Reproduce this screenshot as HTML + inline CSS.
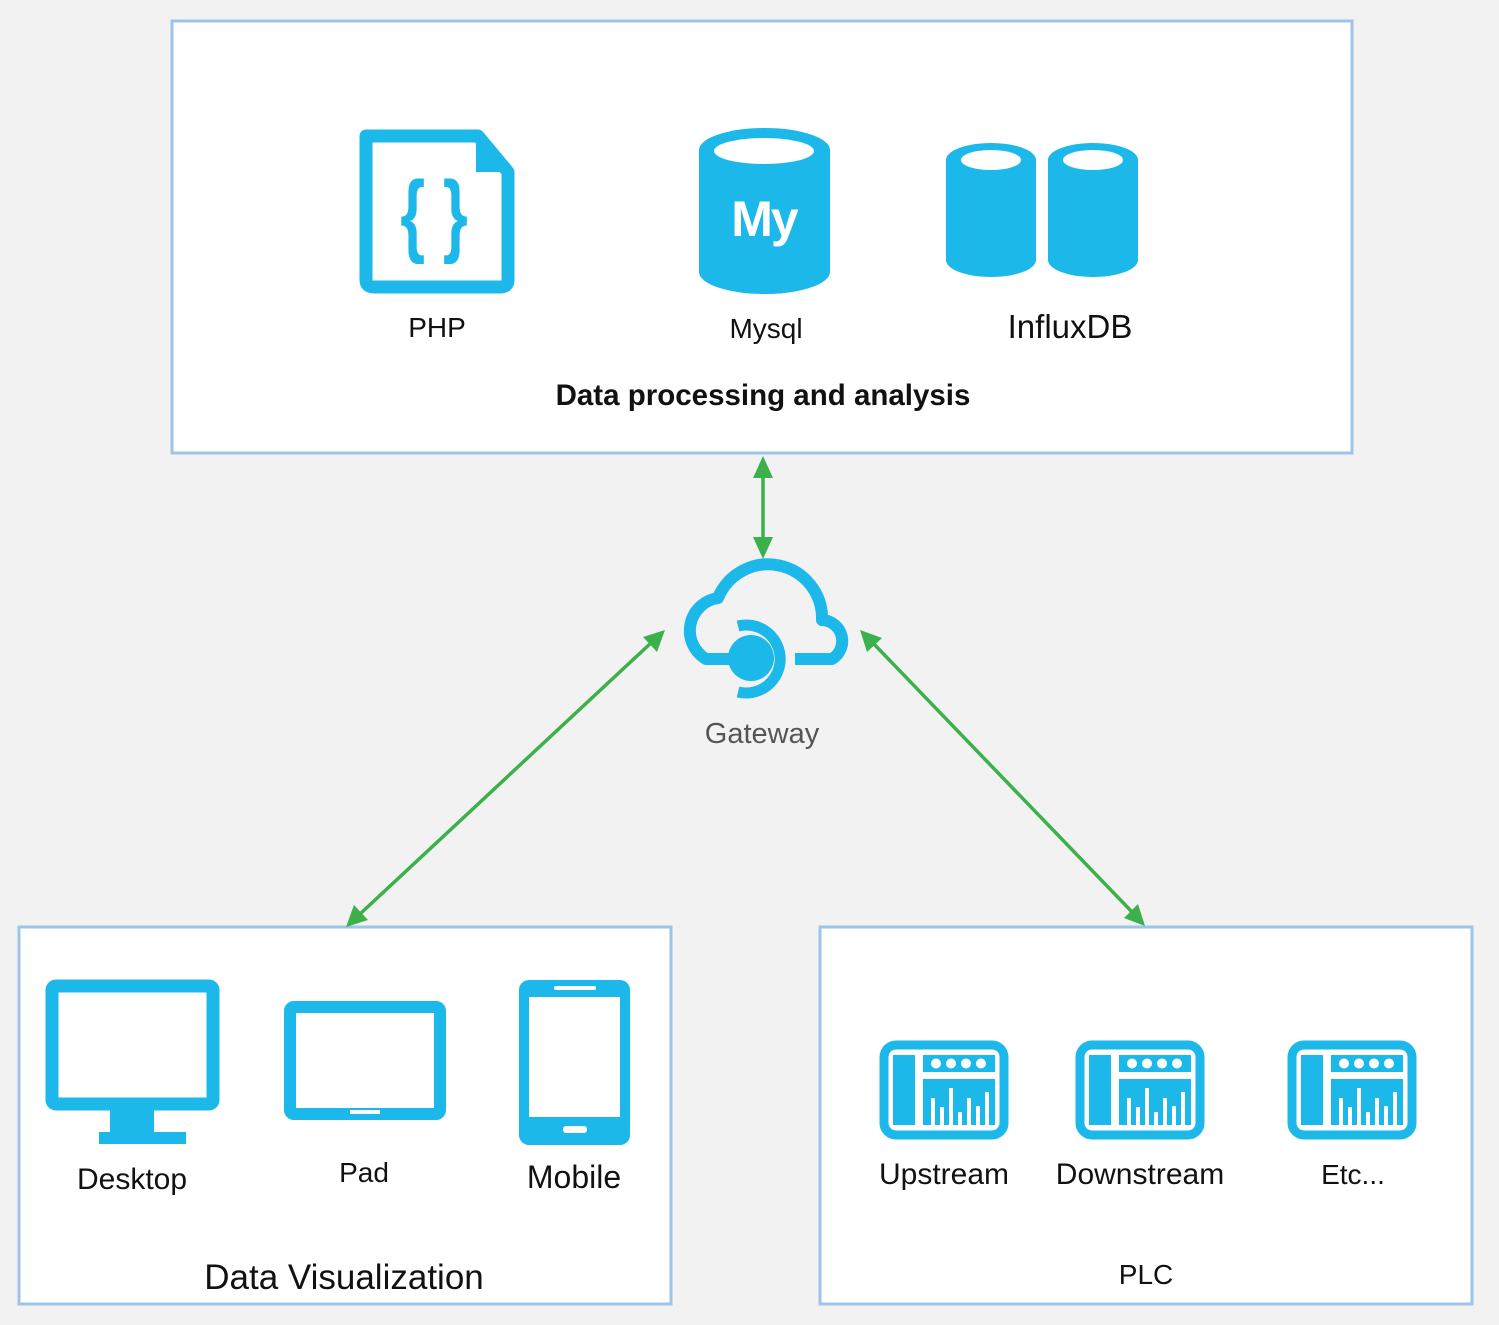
<!DOCTYPE html>
<html><head><meta charset="utf-8"><style>html,body{margin:0;padding:0;background:#f2f2f2}svg{display:block}</style></head>
<body>
<svg width="1499" height="1325" viewBox="0 0 1499 1325" xmlns="http://www.w3.org/2000/svg" font-family="Liberation Sans, sans-serif">
<defs>
<g id="plc">
<rect x="5" y="5" width="120" height="90" rx="12" fill="#fff" stroke="#1db8ea" stroke-width="9"/>
<rect x="14" y="15" width="22" height="70" fill="#1db8ea"/>
<rect x="44" y="15" width="72" height="17" fill="#1db8ea"/>
<circle cx="57" cy="23.5" r="5" fill="#fff"/><circle cx="72" cy="23.5" r="5" fill="#fff"/><circle cx="87" cy="23.5" r="5" fill="#fff"/><circle cx="102" cy="23.5" r="5" fill="#fff"/>
<rect x="44" y="39" width="72" height="46" fill="#1db8ea"/>
<rect x="52" y="58" width="4" height="27" fill="#fff"/><rect x="61" y="67" width="4" height="18" fill="#fff"/><rect x="70" y="48" width="4" height="37" fill="#fff"/><rect x="79" y="72" width="4" height="13" fill="#fff"/><rect x="88" y="58" width="4" height="27" fill="#fff"/><rect x="97" y="66" width="4" height="19" fill="#fff"/><rect x="106" y="52" width="4" height="33" fill="#fff"/>
</g>
</defs>
<rect width="1499" height="1325" fill="#f2f2f2"/>
<rect x="172" y="21" width="1180" height="432" fill="#fff" stroke="#9ec5e8" stroke-width="3"/>
<rect x="19" y="927" width="652" height="377" fill="#fff" stroke="#9ec5e8" stroke-width="3"/>
<rect x="820" y="927" width="652" height="377" fill="#fff" stroke="#9ec5e8" stroke-width="3"/>

<!-- PHP -->
<path d="M366 136 H478 L508 172 V280 Q508 287 500 287 H374 Q366 287 366 280 Z" fill="none" stroke="#1db8ea" stroke-width="13" stroke-linejoin="round"/>
<path d="M476 132 L514 172 H476 Z" fill="#1db8ea"/>
<g transform="translate(434,245) scale(0.8,1.15)"><text x="0" y="0" text-anchor="middle" font-size="80" font-weight="bold" fill="#1db8ea">{ }</text></g>
<!-- Mysql -->
<rect x="699" y="150" width="131" height="122" fill="#1db8ea"/>
<ellipse cx="764.5" cy="150" rx="65.5" ry="22" fill="#1db8ea"/>
<ellipse cx="764.5" cy="272" rx="65.5" ry="22" fill="#1db8ea"/>
<ellipse cx="764" cy="151" rx="50" ry="13" fill="#fff"/>
<text x="764" y="236" text-anchor="middle" font-size="50" font-weight="bold" fill="#fff" letter-spacing="-2">My</text>
<!-- Influx -->
<g fill="#1db8ea">
<rect x="946" y="160" width="90" height="100"/><ellipse cx="991" cy="160" rx="45" ry="17"/><ellipse cx="991" cy="260" rx="45" ry="17"/>
<rect x="1048" y="160" width="90" height="100"/><ellipse cx="1093" cy="160" rx="45" ry="17"/><ellipse cx="1093" cy="260" rx="45" ry="17"/>
</g>
<ellipse cx="991" cy="160" rx="30" ry="10" fill="#fff"/>
<ellipse cx="1093" cy="160" rx="30" ry="10" fill="#fff"/>

<g fill="#111" text-anchor="middle">
<text x="437" y="337" font-size="28">PHP</text>
<text x="766" y="338" font-size="28">Mysql</text>
<text x="1070" y="338" font-size="33">InfluxDB</text>
<text x="763" y="405" font-size="29.5" font-weight="bold">Data processing and analysis</text>
<text x="132" y="1189" font-size="30">Desktop</text>
<text x="364" y="1182" font-size="28">Pad</text>
<text x="574" y="1188" font-size="32">Mobile</text>
<text x="344" y="1289" font-size="35">Data Visualization</text>
<text x="944" y="1184" font-size="30">Upstream</text>
<text x="1140" y="1184" font-size="30">Downstream</text>
<text x="1353" y="1184" font-size="28">Etc...</text>
<text x="1146" y="1284" font-size="28">PLC</text>
</g>
<text x="762" y="743" text-anchor="middle" font-size="29" fill="#555">Gateway</text>

<!-- arrows -->
<g stroke="#3cb04a" stroke-width="3.5">
<line x1="763" y1="470" x2="763" y2="545"/>
<line x1="652" y1="642" x2="360" y2="914"/>
<line x1="872" y1="642" x2="1133" y2="913"/>
</g>
<g fill="#3cb04a">
<polygon points="763,456 753,478 773,478"/>
<polygon points="763,559 753,537 773,537"/>
<polygon points="665,630 643,637 657,652"/>
<polygon points="346,927 368,920 354,905"/>
<polygon points="860,630 867,652 882,638"/>
<polygon points="1145,926 1138,904 1124,918"/>
</g>

<!-- cloud -->
<path d="M735 659 H706 A33 33 0 0 1 718 598 A54 54 0 0 1 822 620 A21 21 0 0 1 832 659 H795" fill="none" stroke="#1db8ea" stroke-width="12" stroke-linejoin="round"/>
<path d="M738 626 A34 34 0 1 1 738 692" fill="none" stroke="#1db8ea" stroke-width="11"/>
<circle cx="751" cy="658" r="23" fill="#1db8ea"/>

<!-- desktop -->
<rect x="52" y="986" width="161" height="118" rx="4" fill="none" stroke="#1db8ea" stroke-width="13"/>
<rect x="110" y="1108" width="44" height="26" fill="#1db8ea"/>
<rect x="99" y="1132" width="87" height="12" fill="#1db8ea"/>
<!-- pad -->
<rect x="290" y="1007" width="150" height="107" rx="4" fill="none" stroke="#1db8ea" stroke-width="12"/>
<rect x="350" y="1110" width="30" height="4" fill="#fff"/>
<!-- mobile -->
<rect x="519" y="980" width="111" height="165" rx="10" fill="#1db8ea"/>
<rect x="529" y="997" width="91" height="120" fill="#fff"/>
<rect x="554" y="986" width="42" height="4" rx="2" fill="#fff"/>
<rect x="563" y="1126" width="24" height="7" rx="3" fill="#fff"/>

<use href="#plc" x="879" y="1040"/>
<use href="#plc" x="1075" y="1040"/>
<use href="#plc" x="1287" y="1040"/>
</svg>
</body></html>
